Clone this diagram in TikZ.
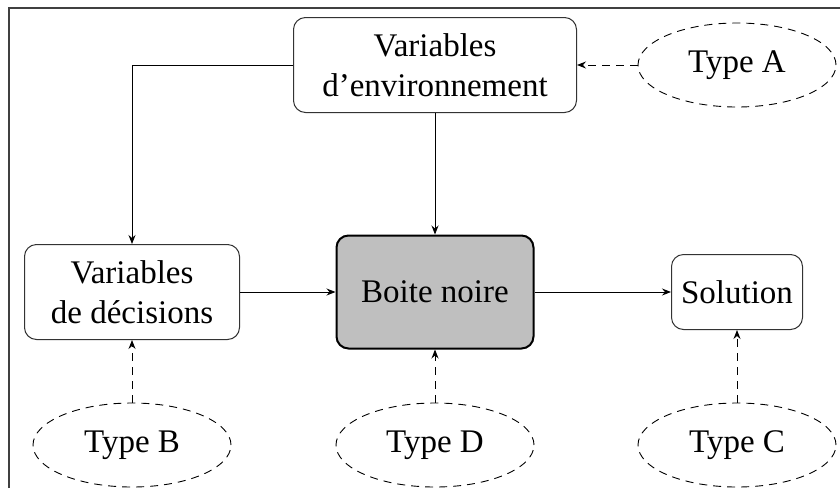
\documentclass[tikz,border=0pt]{standalone}
\usepackage{fontspec}
\setmainfont{Liberation Serif}
\usetikzlibrary{shapes.geometric,arrows.meta}
\begin{document}
\begin{tikzpicture}[x=1pt,y=-1pt,
  every node/.style={font=\fontsize{33}{40}\selectfont, align=center, inner sep=0pt},
  rbox/.style={draw=black!80, line width=1pt, rounded corners=12pt, fill=white},
  blackbox/.style={draw=black, line width=2pt, rounded corners=12pt, fill=black!25},
  typeell/.style={ellipse, draw, dashed, dash pattern=on 8pt off 6pt, line width=0.9pt, minimum width=198pt, minimum height=84pt},
  conn/.style={line width=0.9pt, -{Stealth[length=9pt,width=7pt,inset=3pt]}},
  dconn/.style={conn, dash pattern=on 8pt off 6pt}
]
\useasboundingbox (0,0) rectangle (840,488);
\draw[black!75, line width=1.5pt] (9,488) -- (9,8) -- (840,8);

\node[rbox, minimum width=283pt, minimum height=95pt] (env) at (435,65) {Variables\\d’environnement};
\node[typeell] (ta) at (737,65) {Type A};
\node[rbox, minimum width=215pt, minimum height=95pt] (dec) at (132,292) {Variables\\de décisions};
\node[blackbox, minimum width=197pt, minimum height=113pt] (bn) at (435,292) {Boite noire};
\node[rbox, minimum width=131pt, minimum height=75pt] (sol) at (737,292) {Solution};
\node[typeell] (tb) at (132,445) {Type B};
\node[typeell] (td) at (435,445) {Type D};
\node[typeell] (tc) at (737,445) {Type C};

\draw[dconn] (ta) -- (env);
\draw[conn] (env.west) -| (dec.north);
\draw[conn] (env) -- (bn);
\draw[conn] (dec) -- (bn);
\draw[conn] (bn) -- (sol);
\draw[dconn] (tb) -- (dec);
\draw[dconn] (td) -- (bn);
\draw[dconn] (tc) -- (sol);
\end{tikzpicture}
\end{document}
